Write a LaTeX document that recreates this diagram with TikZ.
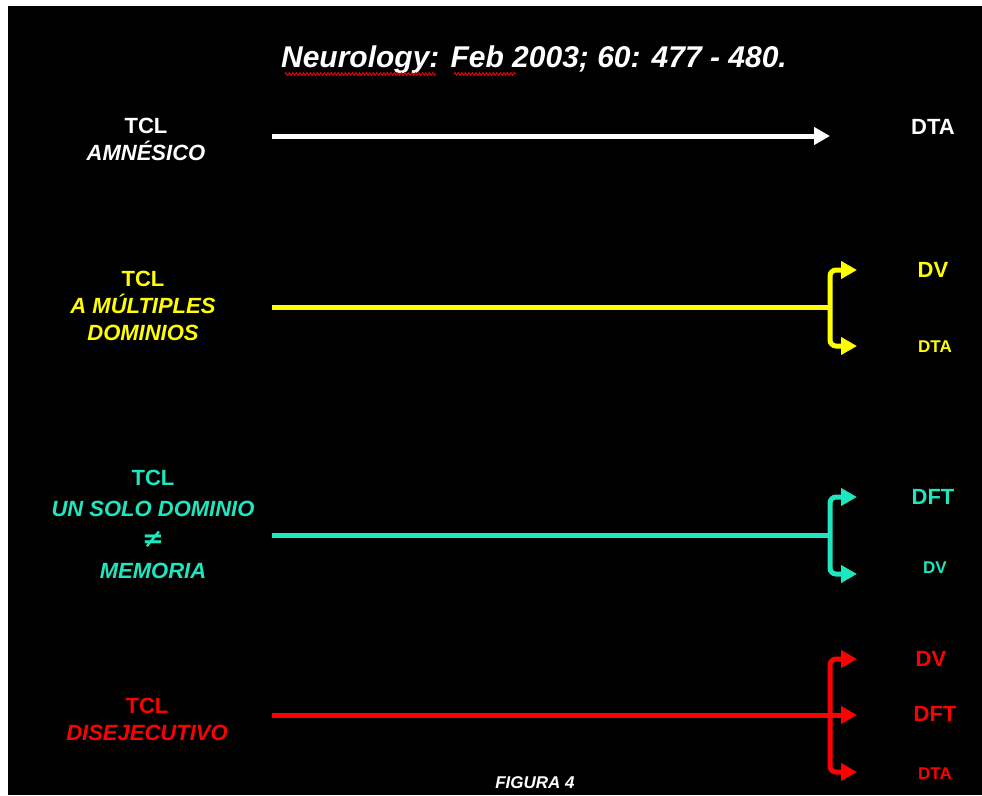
\documentclass[tikz,border=0pt]{standalone}
\usepackage{fontspec}
\setmainfont{Liberation Sans}
\newfontfamily\symfont{DejaVu Sans}
\usetikzlibrary{arrows.meta, decorations.pathmorphing}

\definecolor{tclcyan}{RGB}{30,230,190}
\definecolor{tclyellow}{RGB}{255,255,0}
\definecolor{tclred}{RGB}{255,0,0}

\begin{document}
\begin{tikzpicture}[x=1pt, y=-1pt,
  every node/.style={inner sep=0pt},
  tcl/.style={align=center, font=\fontsize{22}{27}\selectfont\bfseries},
  big/.style={font=\fontsize{22}{26}\selectfont\bfseries},
  small/.style={font=\fontsize{17}{20}\selectfont\bfseries},
  link/.style={line width=5pt, -{Triangle[length=16pt,width=17pt]}},
  fork/.style={line width=5pt, rounded corners=6pt, -{Triangle[length=16pt,width=17pt]}}]

  % frame
  \useasboundingbox (0,0) rectangle (982,795);
  \fill[white] (0,0) rectangle (982,795);
  \fill[black] (8,6) rectangle (982,795);

  % title
  \node[anchor=base, white, font=\fontsize{30}{34}\selectfont\bfseries\itshape] (ref) at (534,67) {Neurology: Feb 2003; 60: 477 - 480.};
  \draw[red, line width=0.9pt, decorate, decoration={zigzag, amplitude=1.3pt, segment length=3.5pt}] (285,74) -- (436,74);
  \draw[red, line width=0.9pt, decorate, decoration={zigzag, amplitude=1.3pt, segment length=3.5pt}] (454,74) -- (516,74);

  % left labels
  \node[tcl, white] (tclA) at (146,139) {TCL\\\itshape AMNÉSICO};
  \node[tcl, tclyellow] (tclM) at (143,306) {TCL\\\itshape A MÚLTIPLES\\\itshape DOMINIOS};
  \node[tcl, tclcyan, font=\fontsize{22}{31}\selectfont\bfseries] (tclU) at (153,524) {TCL\\\itshape UN SOLO DOMINIO\\{\symfont\fontsize{26}{31}\selectfont ≠}\\\itshape MEMORIA};
  \node[tcl, tclred] (tclD) at (147,719) {TCL\\\itshape DISEJECUTIVO};

  % right labels
  \node[big, white] (dtaA) at (933,127) {DTA};
  \node[big, tclyellow] (dvM) at (933,270) {DV};
  \node[small, tclyellow] (dtaM) at (935,347) {DTA};
  \node[big, tclcyan] (dftU) at (933,497) {DFT};
  \node[small, tclcyan] (dvU) at (935,568) {DV};
  \node[big, tclred] (dvD) at (931,659) {DV};
  \node[big, tclred] (dftD) at (935,714) {DFT};
  \node[small, tclred] (dtaD) at (935,774) {DTA};

  % arrow points
  \coordinate (a0) at (272,136);
  \coordinate (a1) at (830,136);
  \coordinate (m0) at (272,307);
  \coordinate (mv) at (830,307);
  \coordinate (m1) at (857,270);
  \coordinate (m2) at (857,346);
  \coordinate (u0) at (272,535);
  \coordinate (uv) at (830,535);
  \coordinate (u1) at (857,497);
  \coordinate (u2) at (857,574);
  \coordinate (d0) at (272,715);
  \coordinate (dv) at (830,715);
  \coordinate (d1) at (857,659);
  \coordinate (d2) at (857,715);
  \coordinate (d3) at (857,772);

  % arrows
  \draw[link, white] (a0) -- (a1);

  \draw[line width=5pt, tclyellow] (m0) -- (mv);
  \draw[fork, tclyellow] (mv) |- (m1);
  \draw[fork, tclyellow] (mv) |- (m2);

  \draw[line width=5pt, tclcyan] (u0) -- (uv);
  \draw[fork, tclcyan] (uv) |- (u1);
  \draw[fork, tclcyan] (uv) |- (u2);

  \draw[fork, tclred] (dv) |- (d1);
  \draw[fork, tclred] (dv) |- (d3);
  \draw[link, tclred] (d0) -- (d2);

  \node[anchor=base, white, font=\fontsize{17}{20}\selectfont\bfseries\itshape] (fig) at (535,788) {FIGURA 4};
\end{tikzpicture}
\end{document}
